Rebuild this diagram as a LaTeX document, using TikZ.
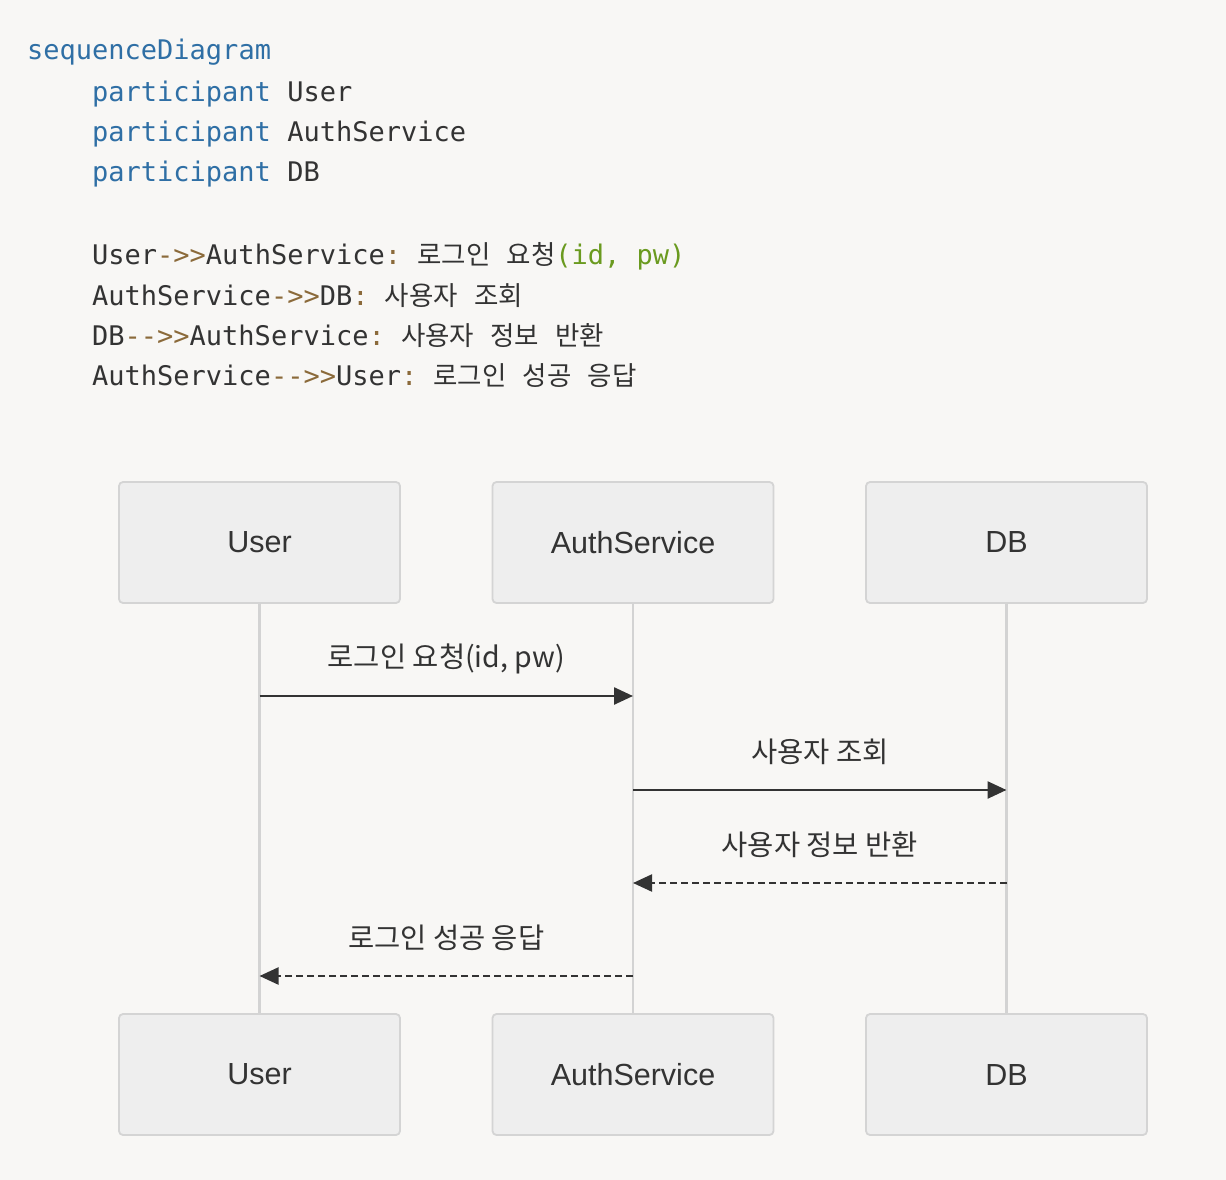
\documentclass[tikz,border=0pt]{standalone}
\usepackage{fontspec}
\setmainfont{Liberation Sans}
\setmonofont{DejaVu Sans Mono}
\newfontfamily\kr{Noto Sans CJK KR}
\usetikzlibrary{arrows.meta, positioning}

\definecolor{paper}{RGB}{248,247,245}
\definecolor{boxfill}{RGB}{238,238,238}
\definecolor{edge}{RGB}{212,212,212}
\definecolor{lifegray}{RGB}{211,211,211}
\definecolor{ink}{RGB}{51,51,51}
\definecolor{keyword}{RGB}{47,111,165}
\definecolor{oper}{RGB}{139,106,58}
\definecolor{strval}{RGB}{106,154,31}

% korean text inside the code listing
\newcommand\hangul[1]{{\fontsize{26.5}{26.5}\selectfont\kr #1}}

\begin{document}
\begin{tikzpicture}
  [x=1pt, y=-1pt,
    >={Triangle[length=19pt,width=17pt]},
    every node/.style={inner sep=0pt, text=ink}]

  \tikzset{
    code/.style={anchor=base west,
      font=\fontsize{27}{27}\selectfont\ttfamily},
    actor/.style={rectangle, rounded corners=4pt,
      draw=edge, line width=1.8pt, fill=boxfill,
      minimum width=281pt, minimum height=121pt,
      font=\fontsize{30.5}{30.5}\selectfont},
    lifeline/.style={draw=lifegray, line width=2.5pt},
    call/.style={->, draw=ink, line width=2.5pt},
    answer/.style={call, line width=2.2pt, dash pattern=on 7pt off 4pt},
    msglabel/.style={font=\fontsize{28.5}{28.5}\selectfont\kr},
  }

  \path[fill=paper] (0,0) rectangle (1226,1180);

  % source listing
  \node[code] (head) at (27,60) {\textcolor{keyword}{sequenceDiagram}};
  \node[code] (decl1) at (92,102) {\textcolor{keyword}{participant} User};
  \node[code] (decl2) at (92,142) {\textcolor{keyword}{participant} AuthService};
  \node[code] (decl3) at (92,182) {\textcolor{keyword}{participant} DB};

  \node[code] (line1) at (92,264) {User\textcolor{oper}{->>}AuthService\textcolor{oper}{:} \hangul{로그인}\ \hangul{요청}\textcolor{strval}{(id, pw)}};
  \node[code] (line2) at (92,305) {AuthService\textcolor{oper}{->>}DB\textcolor{oper}{:} \hangul{사용자}\ \hangul{조회}};
  \node[code] (line3) at (92,345) {DB\textcolor{oper}{-{}->>}AuthService\textcolor{oper}{:} \hangul{사용자}\ \hangul{정보}\ \hangul{반환}};
  \node[code] (line4) at (92,385) {AuthService\textcolor{oper}{-{}->>}User\textcolor{oper}{:} \hangul{로그인}\ \hangul{성공}\ \hangul{응답}};

  % participants
  \node[actor] (userTop) at (259.5,542.5) {User};
  \node[actor] (authTop) at (633,542.5) {AuthService};
  \node[actor] (dbTop) at (1006.5,542.5) {DB};

  \node[actor] (userBot) at (259.5,1074.5) {User};
  \node[actor] (authBot) at (633,1074.5) {AuthService};
  \node[actor] (dbBot) at (1006.5,1074.5) {DB};

  \draw[lifeline] (userTop) -- (userBot);
  \draw[lifeline] (authTop) -- (authBot);
  \draw[lifeline] (dbTop) -- (dbBot);

  % message heights
  \coordinate (step1) at (0,696);
  \coordinate (step2) at (0,790);
  \coordinate (step3) at (0,883);
  \coordinate (step4) at (0,976);

  \draw[call] (userTop.south |- step1) -- (authTop.south |- step1)
    node[msglabel, midway, yshift=37pt] (login) {로그인 요청(id, pw)};
  \draw[call] (authTop.south |- step2) -- (dbTop.south |- step2)
    node[msglabel, midway, yshift=38pt] (lookup) {사용자 조회};
  \draw[answer] (dbTop.south |- step3) -- (authTop.south |- step3)
    node[msglabel, midway, yshift=38pt] (info) {사용자 정보 반환};
  \draw[answer] (authTop.south |- step4) -- (userTop.south |- step4)
    node[msglabel, midway, yshift=38pt] (success) {로그인 성공 응답};
\end{tikzpicture}
\end{document}
